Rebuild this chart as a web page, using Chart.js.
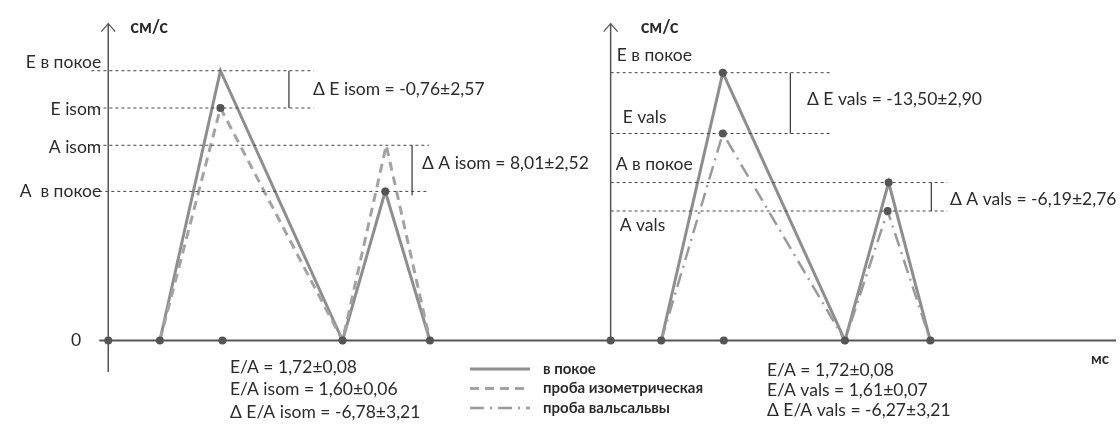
<!DOCTYPE html>
<html>
<head>
<meta charset="utf-8">
<script src="https://cdn.jsdelivr.net/npm/chart.js@4.4.1/dist/chart.umd.min.js"></script>
<style>
    body { margin: 0; background: #fff; }
    #wrap { width: 1120px; height: 424px; }
</style>
</head>
<body>
<div id="wrap"><canvas id="mainChart"></canvas></div>
<script>
// время (условные единицы, мс) и скорость (условные единицы, см/с)
// левая панель: в покое / проба изометрическая
const restTimeL = [157, 218, 341, 384, 429];
const restVelL = [0, 275, 0, 152, 0];
const isomTime = [157, 218, 341, 385, 429];
const isomVel = [0, 237, 0, 199, 0];

// правая панель: в покое / проба вальсальвы
const restTimeR = [662, 724, 847, 891, 933];
const restVelR = [0, 273, 0, 161, 0];
const valsTime = [662, 724, 847, 890, 933];
const valsVel = [0, 211, 0, 132, 0];

// отметки на оси времени
const baseTimesL = [105, 157, 220, 341, 429];
const baseTimesR = [611, 662, 725, 847, 933];

// уровни на оси скорости
const levelNamesL = ["E в покое", "E isom", "A isom", "A  в покое"];
const levelValuesL = [275, 237, 199, 152];
const levelNamesR = ["E в покое", "E vals", "A в покое", "A vals"];
const levelValuesR = [273, 211, 161, 132];

// разницы и отношения
const deltaTextsL = ["Δ E isom = -0,76±2,57", "Δ A isom = 8,01±2,52"];
const deltaTextsR = ["Δ E vals = -13,50±2,90", "Δ A vals = -6,19±2,76"];
const ratioTextsL = ["E/A = 1,72±0,08", "E/A isom = 1,60±0,06", "Δ E/A isom = -6,78±3,21"];
const ratioTextsR = ["E/A = 1,72±0,08", "E/A vals = 1,61±0,07", "Δ E/A vals = -6,27±3,21"];

const seriesNames = ["в покое", "проба изометрическая", "проба вальсальвы"];

const axisL = 105;
const axisR = 611;

const DARK = "#555555";
const TEXT = "#2b2b2b";
const FONT = "Lato, 'Open Sans', sans-serif";

const styles = [
    { color: "#8e8e8e", width: 3, dash: [] },
    { color: "#a3a3a3", width: 3, dash: [9, 6] },
    { color: "#9a9a9a", width: 2.5, dash: [14, 6, 2, 6] },
];

const pts = (xs, ys) => xs.map((x, i) => ({ x: x, y: ys[i] }));

function lineSet(data, st, order) {
    return {
        data: data,
        showLine: true,
        borderColor: st.color,
        borderWidth: st.width,
        borderDash: st.dash,
        pointRadius: 0,
        order: order,
    };
}

function hLine(x1, x2, y) {
    return {
        data: [{ x: x1, y: y }, { x: x2, y: y }],
        showLine: true,
        borderColor: "#444",
        borderWidth: 1,
        borderDash: [3, 3],
        pointRadius: 0,
        order: 3,
    };
}

function vLine(x, y1, y2) {
    return {
        data: [{ x: x, y: y1 }, { x: x, y: y2 }],
        showLine: true,
        borderColor: "#333",
        borderWidth: 1.2,
        pointRadius: 0,
        order: 3,
    };
}

const datasets = [];

// оси
datasets.push({ data: [{ x: 96, y: 0 }, { x: 1120, y: 0 }], showLine: true, borderColor: DARK, borderWidth: 2, pointRadius: 0, order: 2 });
datasets.push({ data: [{ x: axisL, y: -32 }, { x: axisL, y: 323 }], showLine: true, borderColor: DARK, borderWidth: 1.5, pointRadius: 0, order: 2 });
datasets.push({ data: [{ x: axisR, y: 0 }, { x: axisR, y: 323 }], showLine: true, borderColor: DARK, borderWidth: 1.5, pointRadius: 0, order: 2 });

// пунктирные уровни
datasets.push(hLine(88, 312, levelValuesL[0]));
datasets.push(hLine(88, 312, levelValuesL[1]));
datasets.push(hLine(88, 428, levelValuesL[2]));
datasets.push(hLine(96, 428, levelValuesL[3]));
datasets.push(hLine(axisR, 833, levelValuesR[0]));
datasets.push(hLine(axisR, 833, levelValuesR[1]));
datasets.push(hLine(axisR, 950, levelValuesR[2]));
datasets.push(hLine(axisR, 950, levelValuesR[3]));

// скобки
datasets.push(vLine(287, levelValuesL[0], levelValuesL[1]));
datasets.push(vLine(411, levelValuesL[2], levelValuesL[3] - 4));
datasets.push(vLine(792, levelValuesR[0], levelValuesR[1]));
datasets.push(vLine(934, levelValuesR[2], levelValuesR[3]));

// кривые
datasets.push(lineSet(pts(restTimeL, restVelL), styles[0], 5));
datasets.push(lineSet(pts(isomTime, isomVel), styles[1], 4));
datasets.push(lineSet(pts(restTimeR, restVelR), styles[0], 5));
datasets.push(lineSet(pts(valsTime, valsVel), styles[2], 4));

// точки
const dots = baseTimesL.concat(baseTimesR).map((x) => ({ x: x, y: 0 }));
dots.push({ x: isomTime[1], y: isomVel[1] });
dots.push({ x: restTimeL[3], y: restVelL[3] });
dots.push({ x: restTimeR[1], y: restVelR[1] });
dots.push({ x: valsTime[1], y: valsVel[1] });
dots.push({ x: restTimeR[3], y: restVelR[3] });
dots.push({ x: valsTime[3], y: valsVel[3] });
datasets.push({ data: dots, showLine: false, pointRadius: 4, pointBackgroundColor: DARK, pointBorderWidth: 0, order: 1 });

const textPlugin = {
    id: "texts",
    afterDatasetsDraw(chart) {
        const c = chart.ctx;
        const sx = chart.scales.x;
        const sy = chart.scales.y;
        const px = (v) => sx.getPixelForValue(v);
        const py = (v) => sy.getPixelForValue(v);

        c.save();
        c.fillStyle = TEXT;
        c.textBaseline = "middle";

        // стрелки осей
        c.strokeStyle = DARK;
        c.lineWidth = 1.3;
        [axisL, axisR].forEach((a) => {
            c.beginPath();
            c.moveTo(px(a) - 7, py(323) + 8);
            c.lineTo(px(a), py(323));
            c.lineTo(px(a) + 7, py(323) + 8);
            c.stroke();
        });

        c.font = "bold 18px " + FONT;
        c.textAlign = "left";
        c.fillText("см/с", px(axisL) + 22, 27);
        c.fillText("см/с", px(axisR) + 30, 27);
        c.font = "bold 15px " + FONT;
        c.fillText("мс", 1091, 359);

        // подписи уровней
        c.font = "17.5px " + FONT;
        c.textAlign = "right";
        const offL = [-8, 1, 2, 0];
        levelNamesL.forEach((t, i) => c.fillText(t, px(axisL) - 7, py(levelValuesL[i]) + offL[i]));
        c.fillText("0", px(axisL) - 27, py(0));

        c.textAlign = "left";
        const offR = [-17, -16, -18, 14];
        const dxR = [6, 12, 5, 9];
        levelNamesR.forEach((t, i) => c.fillText(t, px(axisR) + dxR[i], py(levelValuesR[i]) + offR[i]));

        // разницы
        c.font = "17.5px " + FONT;
        c.fillText(deltaTextsL[0], 313, 89);
        c.fillText(deltaTextsL[1], 422, 163);
        c.fillText(deltaTextsR[0], 807, 99);
        c.fillText(deltaTextsR[1], 950, 199);

        // отношения
        ratioTextsL.forEach((t, i) => c.fillText(t, 230, 367 + i * 22.5));
        ratioTextsR.forEach((t, i) => c.fillText(t, 767, 370 + i * 20));

        // легенда
        c.font = "bold 15px " + FONT;
        seriesNames.forEach((t, i) => {
            const y = 369 + i * 19.5;
            const st = styles[i];
            c.save();
            c.strokeStyle = st.color;
            c.lineWidth = st.width;
            c.setLineDash(st.dash);
            c.beginPath();
            c.moveTo(470, y);
            c.lineTo(530, y);
            c.stroke();
            c.restore();
            c.fillText(t, 543, y);
        });

        c.restore();
    },
};

new Chart(document.getElementById("mainChart"), {
    type: "scatter",
    data: { datasets: datasets },
    options: {
        responsive: true,
        maintainAspectRatio: false,
        animation: false,
        layout: { padding: 0 },
        scales: {
            x: { type: "linear", min: 0, max: 1120, display: false },
            y: { type: "linear", min: -81, max: 343, display: false },
        },
        plugins: {
            legend: { display: false },
            tooltip: { enabled: false },
        },
        elements: { line: { tension: 0 } },
    },
    plugins: [textPlugin],
});
</script>
</body>
</html>
